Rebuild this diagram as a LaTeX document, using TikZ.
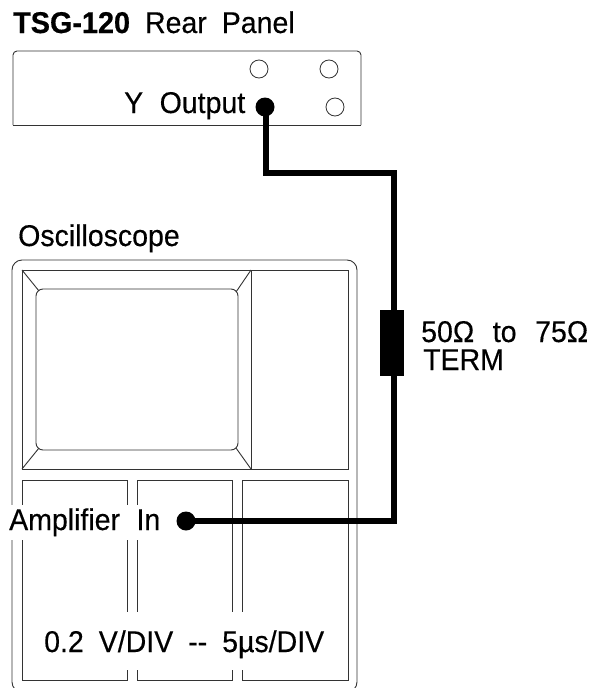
\documentclass[tikz,border=0pt]{standalone}
\usepackage{fontspec}
\setmainfont[FakeStretch=0.95,FakeBold=0.35]{Liberation Sans}
\newfontfamily\titlebold[FakeStretch=0.96,FakeBold=0.6]{Liberation Sans Bold}
\newcommand{\wgap}{\hspace{0.55em}}
\newcommand{\ngap}{\hspace{0.5em}}
\newcommand{\lgap}{\hspace{0.62em}}
\tikzset{
  x=1pt,y=-1pt,
  outline/.style={draw=black!80,line width=0.9pt},
  label/.style={anchor=base west,inner sep=0pt,font=\fontsize{30}{30}\selectfont},
  jack/.style={circle,draw=black!80,line width=0.8pt,fill=white,inner sep=0pt,minimum size=18pt},
  jackon/.style={circle,fill=black,inner sep=0pt,minimum size=19pt},
  mask/.style={label,fill=white,inner xsep=2pt,text depth=10pt},
  cable/.style={line width=6pt,black,line join=miter},
}
\begin{document}
\begin{tikzpicture}
\clip (0,0) rectangle (593,688);
\fill[white] (0,0) rectangle (593,688);
% rear panel
\draw[outline,rounded corners=4pt] (13,125) -- (13,51) -- (361,51) -- (361,125);
\draw[outline] (13,125) -- (361,125);
\node[jack] (j1) at (259,69) {};
\node[jack] (j2) at (329,69) {};
\node[jack] (j3) at (335,107) {};
\node[label] (title) at (13,33) {{\titlebold TSG-120}\ngap Rear\ngap Panel};
\node[label] (yout) at (124,113) {Y\wgap Output};
% oscilloscope
\node[label] (scope) at (18,246) {Oscilloscope};
\draw[outline,rounded corners=10pt] (12,260) rectangle (357,692);
\draw[outline] (22,270) rectangle (348,469);
\draw[outline] (251,270) -- (251,469);
\draw[outline,rounded corners=7pt] (36,289) rectangle (238,450);
\draw[outline] (22,270) -- (39,291);
\draw[outline] (251,270) -- (236,292);
\draw[outline] (22,469) -- (39,448);
\draw[outline] (251,469) -- (236,448);
\draw[outline] (22,480) rectangle (127,680);
\draw[outline] (137,480) rectangle (232,680);
\draw[outline] (242,480) rectangle (348,680);
\node[mask,text height=25pt] (amp) at (7,530) {Amplifier\wgap In\hspace{12pt}};
\node[mask,text height=40pt,text depth=18pt] (sens) at (42,652) {0.2\ngap V/DIV\ngap {-}{-}\ngap 5\textmu s/DIV};
% cable
\node[jackon] (yjack) at (265,107) {};
\node[jackon] (ajack) at (186,521) {};
\coordinate (c1) at (266,173);
\coordinate (c2) at (394,173);
\coordinate (c3) at (394,521);
\draw[cable] (yjack.center) -- (266,107) -- (c1) -- (c2) -- (c3) -- (ajack.center);
\node[fill=black,inner sep=0pt,minimum width=24pt,minimum height=66pt] (term) at (392,343) {};
\node[label] (t1) at (421,342) {50Ω\lgap to\lgap 75Ω};
\node[label] (t2) at (423,370) {TERM};
\end{tikzpicture}
\end{document}
